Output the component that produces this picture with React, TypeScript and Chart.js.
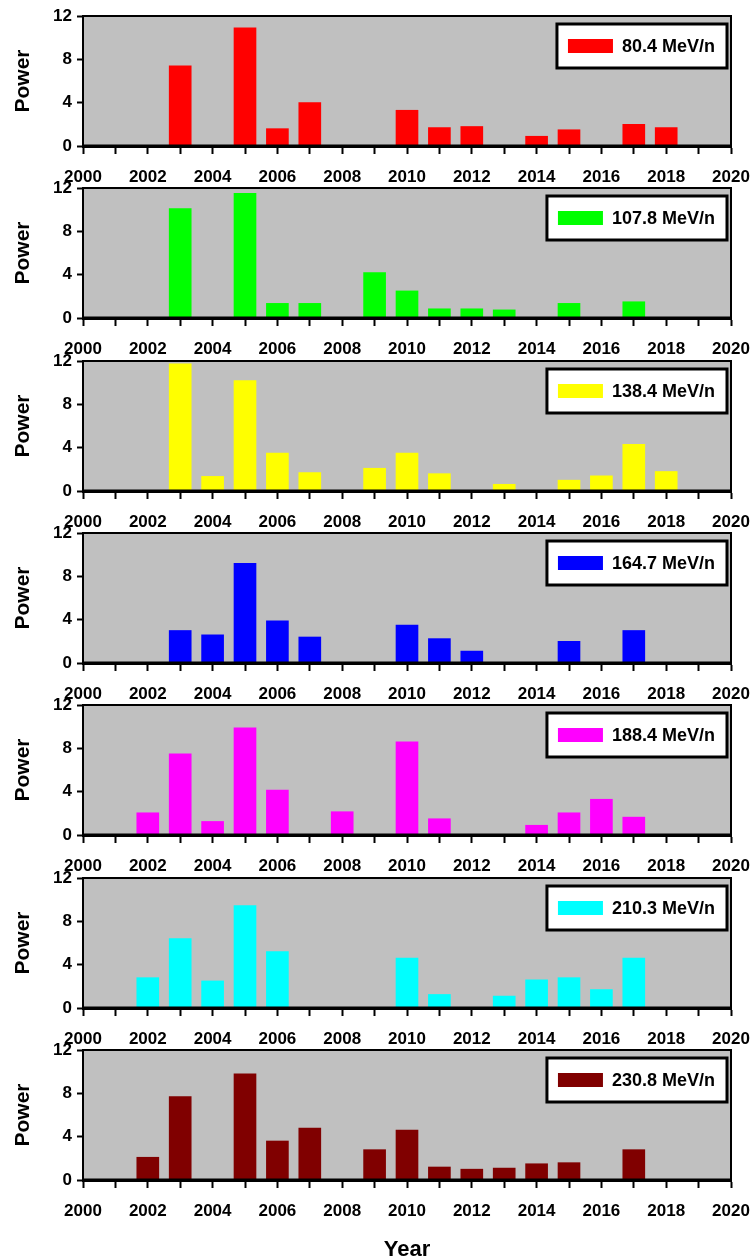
import React, { useEffect, useRef } from "react";
import { Chart, registerables } from "chart.js";

Chart.register(...registerables);

const years = [2002, 2003, 2004, 2005, 2006, 2007, 2008, 2009, 2010, 2011, 2012, 2013, 2014, 2015, 2016, 2017, 2018];

const power80 = [null, 7.4, null, 10.9, 1.6, 4.0, null, null, 3.3, 1.7, 1.8, null, 0.9, 1.5, null, 2.0, 1.7];
const power107 = [null, 10.1, null, 11.5, 1.35, 1.35, null, 4.2, 2.5, 0.85, 0.85, 0.75, null, 1.35, null, 1.5, null];
const power138 = [null, 11.75, 1.35, 10.2, 3.5, 1.7, null, 2.1, 3.5, 1.6, null, 0.62, null, 1.0, 1.4, 4.3, 1.8];
const power164 = [null, 3.0, 2.6, 9.2, 3.9, 2.4, null, null, 3.5, 2.25, 1.1, null, null, 2.0, null, 3.0, null];
const power188 = [2.05, 7.5, 1.25, 9.9, 4.15, null, 2.15, null, 8.6, 1.5, null, null, 0.9, 2.05, 3.3, 1.65, null];
const power210 = [2.8, 6.4, 2.5, 9.45, 5.2, null, null, null, 4.6, 1.25, null, 1.1, 2.6, 2.8, 1.7, 4.6, null];
const power230 = [2.1, 7.7, null, 9.8, 3.6, 4.8, null, 2.8, 4.6, 1.2, 1.0, 1.1, 1.5, 1.6, null, 2.8, null];

const seriesLabels = ["80.4 MeV/n", "107.8 MeV/n", "138.4 MeV/n", "164.7 MeV/n", "188.4 MeV/n", "210.3 MeV/n", "230.8 MeV/n"];
const seriesValues = [power80, power107, power138, power164, power188, power210, power230];
const seriesColors = ["#ff0000", "#00ff00", "#ffff00", "#0000ff", "#ff00ff", "#00ffff", "#800000"];

const yTicks = [0, 4, 8, 12];
const xMin = 2000;
const xMax = 2020;

const FONT = '"Liberation Sans", Arial, sans-serif';
const PLOT_H = 130;
const PAD_TOP = 10;
const PAGE_H = 1260;

function panelTop(i: number) {
  return Math.round(16 + i * 172.3);
}

function Panel({ index }: { index: number }) {
  const ref = useRef<HTMLCanvasElement | null>(null);
  const isLast = index === seriesLabels.length - 1;
  const top = panelTop(index) - PAD_TOP;
  const height = isLast ? PAGE_H - top : 195;

  useEffect(() => {
    const canvas = ref.current;
    if (!canvas) return;
    const label = seriesLabels[index];
    const color = seriesColors[index];
    const values = seriesValues[index];
    const data = years
      .map((yr, k) => ({ x: yr, y: values[k] }))
      .filter((p) => p.y !== null);

    const deco = {
      id: "panelDeco" + index,
      beforeDraw(chart: any) {
        const { left, top, width, height } = chart.chartArea;
        const ctx = chart.ctx;
        ctx.save();
        ctx.fillStyle = "#c0c0c0";
        ctx.fillRect(left, top, width, height);
        ctx.restore();
      },
      afterDatasetsDraw(chart: any) {
        const { left, top, right, bottom } = chart.chartArea;
        const ctx = chart.ctx;
        ctx.save();
        ctx.strokeStyle = "#000";
        ctx.lineWidth = 2;
        ctx.strokeRect(left, top, right - left, bottom - top);
        ctx.lineWidth = 3;
        ctx.beginPath();
        ctx.moveTo(left - 1, bottom);
        ctx.lineTo(right + 1, bottom);
        ctx.stroke();

        // legend box
        ctx.font = "bold 18px " + FONT;
        const tw = ctx.measureText(label).width;
        const w = 11 + 45 + 9 + tw + 12;
        const h = 44;
        const bx = right - 4 - w;
        const by = top + 8;
        ctx.fillStyle = "#fff";
        ctx.fillRect(bx, by, w, h);
        ctx.lineWidth = 3;
        ctx.strokeStyle = "#000";
        ctx.strokeRect(bx, by, w, h);
        ctx.fillStyle = color;
        ctx.fillRect(bx + 11, by + h / 2 - 7, 45, 14);
        ctx.fillStyle = "#000";
        ctx.textBaseline = "middle";
        ctx.textAlign = "left";
        ctx.fillText(label, bx + 11 + 45 + 9, by + h / 2 + 1);
        ctx.restore();
      },
    };

    const chart = new Chart(canvas, {
      type: "bar",
      data: {
        datasets: [
          {
            label,
            data: data as any,
            backgroundColor: color,
            borderWidth: 0,
            barThickness: 22,
          },
        ],
      },
      options: {
        animation: false,
        responsive: false,
        maintainAspectRatio: false,
        layout: { padding: { top: PAD_TOP, left: 0, right: 753 - 731, bottom: 0 } },
        plugins: {
          legend: { display: false },
          tooltip: { enabled: false },
        },
        scales: {
          x: {
            type: "linear",
            min: xMin,
            max: xMax,
            offset: false,
            grid: {
              offset: false,
              drawOnChartArea: false,
              drawTicks: true,
              tickLength: 8,
              tickColor: "#000",
              tickWidth: 2,
              color: "#000",
            },
            border: { display: true, color: "#000", width: 3 },
            ticks: {
              stepSize: 1,
              autoSkip: false,
              maxRotation: 0,
              minRotation: 0,
              padding: 13,
              color: "#000",
              font: { family: FONT, size: 17, weight: "bold" },
              callback: (v: any) => (Number(v) % 2 === 0 ? String(v) : ""),
            },
            title: {
              display: isLast,
              text: "Year",
              color: "#000",
              font: { family: FONT, size: 22, weight: "bold" },
              padding: { top: 0, bottom: -3 },
            },
            afterFit: (s: any) => {
              s.height = height - PAD_TOP - PLOT_H;
              s.paddingLeft = 0;
              s.paddingRight = 0;
            },
          } as any,
          y: {
            min: 0,
            max: 12,
            afterBuildTicks: (s: any) => {
              s.ticks = yTicks.map((v) => ({ value: v }));
            },
            grid: {
              drawOnChartArea: false,
              drawTicks: true,
              tickLength: 6,
              tickColor: "#000",
              tickWidth: 2,
              color: "#000",
            },
            border: { display: true, color: "#000", width: 2 },
            ticks: {
              padding: 5,
              color: "#000",
              font: { family: FONT, size: 17, weight: "bold" },
            },
            title: {
              display: true,
              text: "Power",
              color: "#000",
              font: { family: FONT, size: 21, weight: "bold" },
              padding: { top: 11, bottom: 0 },
            },
            afterFit: (s: any) => {
              s.width = 83;
              s.paddingTop = 0;
              s.paddingBottom = 0;
            },
          } as any,
        },
      },
      plugins: [deco],
    });
    return () => chart.destroy();
  }, [index, height]);

  return (
    <canvas
      ref={ref}
      width={753}
      height={height}
      style={{ position: "absolute", left: 0, top, width: 753, height }}
    />
  );
}

export default function App() {
  return (
    <div style={{ position: "absolute", left: 0, top: 0, width: 753, height: PAGE_H, background: "#fff" }}>
      {seriesLabels.map((_, i) => (
        <Panel key={i} index={i} />
      ))}
    </div>
  );
}
